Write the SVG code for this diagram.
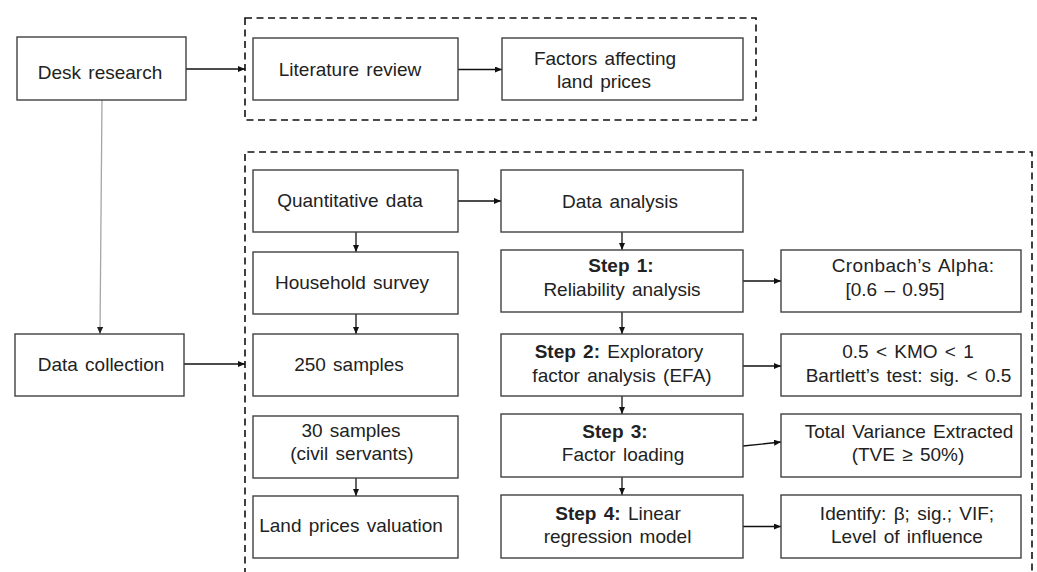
<svg xmlns="http://www.w3.org/2000/svg" width="1037" height="572" viewBox="0 0 1037 572">
<defs>
<marker id="ah" markerUnits="userSpaceOnUse" markerWidth="7" markerHeight="6" refX="7" refY="3" orient="auto">
<path d="M0,0 L7,3 L0,6 Z" fill="#111"/>
</marker>
<marker id="ahg" markerUnits="userSpaceOnUse" markerWidth="7" markerHeight="6" refX="7" refY="3" orient="auto">
<path d="M0,0 L7,3 L0,6 Z" fill="#222"/>
</marker>
<style>
.box{fill:#fff;stroke:#404040;stroke-width:1.4}
.dash{fill:none;stroke:#111;stroke-width:1.6;stroke-dasharray:7 4.5}
text{font-family:"Liberation Sans",Arial,sans-serif;font-size:19px;fill:#222;text-anchor:middle;word-spacing:2px}
.b{font-weight:bold}
.c{fill:none;stroke:#111;stroke-width:1.3;marker-end:url(#ah)}
.g{fill:none;stroke:#a6a6a6;stroke-width:1.3;marker-end:url(#ahg)}
</style>
</defs>
<rect width="1037" height="572" fill="#fff"/>
<g id="groups">
<rect class="dash" x="245" y="18" width="511" height="102"/>
<path class="dash" d="M245,575 V152 H1032 V575"/>
</g>
<g id="connectors">
<path class="c" d="M186,69 H245"/>
<path class="c" d="M458,69.5 H502"/>
<path class="g" d="M102,100 L100,334"/>
<path class="c" d="M184,364 H245"/>
<path class="c" d="M458,201 H501"/>
<path class="c" d="M356,232 V252"/>
<path class="c" d="M356,314 V334"/>
<path class="c" d="M356,478 V496"/>
<path class="c" d="M622,232 V250"/>
<path class="c" d="M622,312 V334"/>
<path class="c" d="M622,396 V414"/>
<path class="c" d="M622,477 V495"/>
<path class="c" d="M743,281 H781"/>
<path class="c" d="M743,366 H781"/>
<path class="c" d="M743,446 L781,442"/>
<path class="c" d="M743,526.5 H781"/>
</g>
<g id="desk"><rect class="box" x="17" y="37" width="169" height="63"/><text x="100" y="79">Desk research</text></g>
<g id="lit"><rect class="box" x="253" y="38" width="205" height="62"/><text x="350" y="76">Literature review</text></g>
<g id="factors"><rect class="box" x="502" y="38" width="241" height="62"/><text x="605" y="64.5">Factors affecting</text><text x="604" y="88">land prices</text></g>
<g id="datacoll"><rect class="box" x="15" y="334" width="169" height="62"/><text x="101" y="371">Data collection</text></g>
<g id="quant"><rect class="box" x="253" y="170" width="205" height="62"/><text x="350" y="207">Quantitative data</text></g>
<g id="household"><rect class="box" x="253" y="252" width="205" height="62"/><text x="352" y="289">Household survey</text></g>
<g id="s250"><rect class="box" x="253" y="334" width="205" height="62"/><text x="349" y="371">250 samples</text></g>
<g id="s30"><rect class="box" x="253" y="416" width="205" height="62"/><text x="351" y="437">30 samples</text><text x="352" y="460">(civil servants)</text></g>
<g id="landval"><rect class="box" x="253" y="496" width="205" height="62"/><text x="351" y="532">Land prices valuation</text></g>
<g id="analysis"><rect class="box" x="501" y="170" width="242" height="62"/><text x="620" y="207.5">Data analysis</text></g>
<g id="step1"><rect class="box" x="501" y="250" width="242" height="62"/><text x="621" y="272" class="b">Step 1:</text><text x="622" y="295.5">Reliability analysis</text></g>
<g id="step2"><rect class="box" x="501" y="334" width="242" height="62"/><text x="619" y="358"><tspan class="b">Step 2:</tspan> Exploratory</text><text x="622" y="381.5">factor analysis (EFA)</text></g>
<g id="step3"><rect class="box" x="501" y="414" width="242" height="63"/><text x="615" y="438" class="b">Step 3:</text><text x="623" y="461">Factor loading</text></g>
<g id="step4"><rect class="box" x="501" y="495" width="242" height="63"/><text x="618" y="520"><tspan class="b">Step 4:</tspan>  Linear</text><text x="617.5" y="543">regression model</text></g>
<g id="cronbach"><rect class="box" x="781" y="250" width="240" height="62"/><text x="913" y="272" letter-spacing="0.4">Cronbach’s Alpha:</text><text x="895" y="295.5" word-spacing="5">[0.6 – 0.95]</text></g>
<g id="kmo"><rect class="box" x="781" y="334" width="240" height="62"/><text x="908" y="358">0.5 &lt; KMO &lt; 1</text><text x="908.5" y="381.5">Bartlett’s test: sig. &lt; 0.5</text></g>
<g id="tve"><rect class="box" x="781" y="414" width="240" height="63"/><text x="909" y="438">Total Variance Extracted</text><text x="908" y="461">(TVE ≥ 50%)</text></g>
<g id="identify"><rect class="box" x="781" y="495" width="240" height="63"/><text x="907" y="520">Identify: β; sig.; VIF;</text><text x="907" y="543">Level of influence</text></g>
</svg>
